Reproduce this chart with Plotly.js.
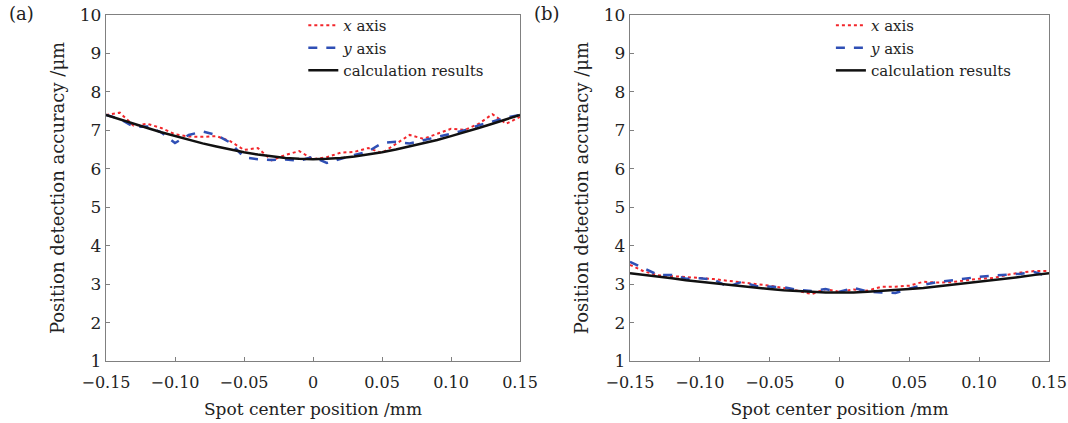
<!DOCTYPE html>
<html>
<head>
<meta charset="utf-8">
<script src="https://cdn.plot.ly/plotly-3.0.1.min.js"></script>
<style>html,body{margin:0;padding:0;background:#fff;}#chart{width:1068px;height:423px;}</style>
</head>
<body>
<div id="chart"></div>
<script>
// Spot center positions (mm)
const positions = [-0.15,-0.14,-0.13,-0.12,-0.11,-0.10,-0.09,-0.08,-0.07,-0.06,-0.05,-0.04,-0.03,-0.02,-0.01,0.00,
                   0.01,0.02,0.03,0.04,0.05,0.06,0.07,0.08,0.09,0.10,0.11,0.12,0.13,0.14,0.15];

// Panel (a)
const aXAxis = [7.40,7.46,7.12,7.17,7.06,6.90,6.84,6.83,6.85,6.72,6.49,6.54,6.22,6.36,6.46,6.25,
                6.30,6.42,6.44,6.54,6.41,6.64,6.88,6.78,6.90,7.04,7.01,7.17,7.42,7.17,7.35];
const aYAxis = [7.40,7.30,7.09,7.10,6.95,6.67,6.88,6.97,6.88,6.68,6.30,6.25,6.23,6.24,6.21,6.31,
                6.15,6.26,6.36,6.45,6.67,6.70,6.66,6.74,6.82,6.92,7.00,7.13,7.24,7.33,7.40];
const aCalc  = [7.40,7.28,7.17,7.06,6.95,6.85,6.75,6.66,6.58,6.50,6.43,6.37,6.32,6.28,6.26,6.25,
                6.26,6.28,6.32,6.37,6.43,6.50,6.58,6.66,6.75,6.85,6.95,7.06,7.17,7.28,7.40];

// Panel (b)
const bXAxis = [3.50,3.33,3.23,3.21,3.18,3.16,3.13,3.09,3.05,3.00,2.96,2.90,2.83,2.74,2.87,2.80,
                2.86,2.83,2.93,2.93,2.96,3.06,3.04,3.05,3.10,3.14,3.16,3.24,3.30,3.34,3.34];
const bYAxis = [3.58,3.42,3.24,3.24,3.14,3.15,3.12,2.93,3.06,2.95,2.93,2.92,2.85,2.82,2.87,2.80,
                2.90,2.81,2.78,2.77,2.88,2.98,3.05,3.10,3.14,3.19,3.22,3.24,3.27,3.31,3.19];
const bCalc  = [3.28,3.24,3.19,3.15,3.10,3.06,3.02,2.98,2.94,2.90,2.87,2.84,2.82,2.80,2.78,2.78,
                2.78,2.80,2.82,2.84,2.87,2.90,2.94,2.98,3.02,3.06,3.10,3.15,3.19,3.24,3.28];

const seriesNames = ["<i>x</i> axis", "<i>y</i> axis", "calculation results"];
const xTickVals = [-0.15,-0.10,-0.05,0,0.05,0.10,0.15];
const xTickText = ["\u22120.15","\u22120.10","\u22120.05","0","0.05","0.10","0.15"];
const yTickVals = [1,2,3,4,5,6,7,8,9,10];
const xTitle = "Spot center position /mm";
const yTitle = "Position detection accuracy /\u03bcm";
const panelLabels = ["(a)", "(b)"];

const FONT = "DejaVu Serif, Liberation Serif, serif";
const RED = "#f2262b", BLUE = "#2f4fb5", BLACK = "#111111";

function traces(ys, xa, ya, leg) {
  return [
    {x: positions, y: ys[0], name: seriesNames[0], xaxis: xa, yaxis: ya, legend: leg, mode: "lines",
     line: {color: RED, width: 2, dash: "dot"}},
    {x: positions, y: ys[1], name: seriesNames[1], xaxis: xa, yaxis: ya, legend: leg, mode: "lines",
     line: {color: BLUE, width: 2.5, dash: "dash"}},
    {x: positions, y: ys[2], name: seriesNames[2], xaxis: xa, yaxis: ya, legend: leg, mode: "lines",
     line: {color: BLACK, width: 2.5}}
  ];
}

const data = [].concat(
  traces([aXAxis, aYAxis, aCalc], "x", "y", "legend"),
  traces([bXAxis, bYAxis, bCalc], "x2", "y2", "legend2")
);

function xax(domain, anchor) {
  return {domain: domain, anchor: anchor, range: [-0.15, 0.15], tickvals: xTickVals, ticktext: xTickText,
    ticks: "inside", ticklen: 4, tickcolor: "#808080", showline: true, linecolor: "#808080", linewidth: 1.3,
    mirror: true, showgrid: false, zeroline: false, ticklabeloverflow: "allow", ticklabelstandoff: 6,
    tickfont: {family: FONT, size: 16, color: "#222"},
    title: {text: xTitle, font: {family: FONT, size: 17, color: "#222"}, standoff: 12}};
}
function yax(anchor) {
  return {domain: [0, 1], anchor: anchor, range: [1, 10], tickvals: yTickVals,
    ticks: "inside", ticklen: 4, tickcolor: "#808080", showline: true, linecolor: "#808080", linewidth: 1.3,
    mirror: true, showgrid: false, zeroline: false, tickfont: {family: FONT, size: 17, color: "#222"},
    title: {text: yTitle, font: {family: FONT, size: 18, color: "#222"}, standoff: 10}};
}
function leg(x) {
  return {x: x, y: 1.017, xanchor: "left", yanchor: "top", bgcolor: "rgba(0,0,0,0)", borderwidth: 0,
    font: {family: FONT, size: 15, color: "#222"}, tracegroupgap: 0};
}

const layout = {
  width: 1068, height: 423,
  margin: {l: 0, r: 0, t: 15, b: 62},
  paper_bgcolor: "#fff", plot_bgcolor: "#fff",
  showlegend: true,
  xaxis: xax([106/1068, 520/1068], "y"),
  yaxis: yax("x"),
  xaxis2: xax([630/1068, 1049/1068], "y2"),
  yaxis2: yax("x2"),
  legend: leg(0.284),
  legend2: leg(0.778),
  annotations: [
    {text: panelLabels[0], xref: "paper", yref: "paper", x: 7/1068, y: 1.005, xanchor: "left", yanchor: "middle",
     showarrow: false, font: {family: FONT, size: 18, color: "#222"}},
    {text: panelLabels[1], xref: "paper", yref: "paper", x: 532/1068, y: 1.005, xanchor: "left", yanchor: "middle",
     showarrow: false, font: {family: FONT, size: 18, color: "#222"}}
  ]
};

Plotly.newPlot("chart", data, layout, {staticPlot: true, displayModeBar: false});
</script>
</body>
</html>
